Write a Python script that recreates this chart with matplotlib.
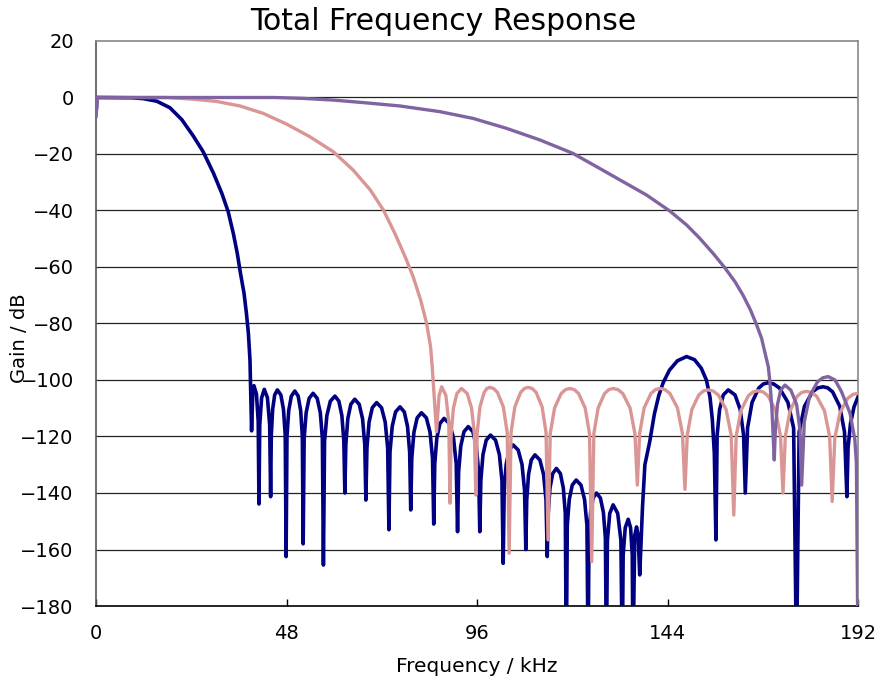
import matplotlib
matplotlib.use('Agg')
import matplotlib.pyplot as plt

# ---------------------------------------------------------------------------
# Data (kHz, dB) -- values below -180 fall off the axis
# ---------------------------------------------------------------------------
# navy: narrowest filter
navy_khz = [0, 0.3, 9, 11.9, 15.3, 18.6, 21.6, 24.5, 27.0, 29.6, 31.7, 33.3, 34.6, 35.6, 36.4,
            37.3, 37.9, 38.4, 38.8, 39.2,
            39.5, 39.8, 40.43, 40.87, 41.06,
            41.26, 41.73, 42.4, 43.2, 43.76, 44.0,
            44.17, 44.51, 45.02, 45.7, 46.58, 47.24, 47.68, 47.9,
            48.12, 48.56, 49.22, 50.1, 50.94, 51.57, 51.99, 52.2,
            52.45, 52.95, 53.7, 54.7, 55.74, 56.52, 57.04, 57.3,
            57.59, 58.17, 59.04, 60.2, 61.2, 61.95, 62.45, 62.7,
            62.95, 63.45, 64.2, 65.2, 66.32, 67.16, 67.72, 68.0,
            68.27, 68.81, 69.62, 70.7, 71.94, 72.87, 73.49, 73.8,
            74.08, 74.64, 75.48, 76.6, 77.68, 78.49, 79.03, 79.3,
            79.57, 80.11, 80.92, 82.0, 83.24, 84.17, 84.79, 85.1,
            85.36, 85.88, 86.66, 87.7, 89.06, 90.08, 90.76, 91.1,
            91.37, 91.91, 92.72, 93.8, 94.96, 95.83, 96.41, 96.7,
            96.97, 97.51, 98.32, 99.4, 100.68, 101.64, 102.28, 102.6,
            102.85, 103.35, 104.1, 105.1, 106.38, 107.34, 107.98, 108.3,
            108.53, 108.99, 109.68, 110.6, 111.84, 112.77, 113.39, 113.7,
            113.93, 114.39, 115.08, 116.0, 117.0, 117.75, 118.25, 118.5,
            118.75, 119.25, 120.0, 121.0, 122.2, 123.1, 123.7, 124.0,
            124.21, 124.63, 125.26, 126.1, 127.1, 127.85, 128.35, 128.6,
            128.86, 129.45, 130.3, 131.45, 132.26, 132.6,
            132.83, 133.35, 134.1, 134.7, 135.12, 135.3,
            135.75, 136.2, 136.6, 137.0,
            137.7, 138.3, 139.5, 140.7, 141.8, 142.9, 144.5, 146.5, 148.8, 150.8, 152.5,
            153.8, 154.7, 155.3, 155.8, 156.2,
            156.51, 157.13, 158.06, 159.3, 161.02, 162.31, 163.17, 163.6,
            164.17, 165.31, 167.02, 168.16, 169.3, 170.74, 172.18, 174.34, 175.78, 176.5,
            177.17, 178.51, 180.52, 181.86, 183.2, 184.4, 185.6, 187.4, 188.6, 189.2,
            189.5, 190.1, 191.0, 192.0]
navy_db = [-6, 0, -0.1, -0.4, -1.3, -3.6, -7.8, -13.6, -19.2, -26.8, -33.9, -40.4, -48.1, -55.2, -62.2,
           -69.3, -76.4, -83.5, -93, -118,
           -105, -102, -105, -114.6, -143.9,
           -115.9, -106.3, -103.3, -106.3, -115.9, -141.3,
           -119.5, -110.4, -105.3, -103.5, -105.3, -110.4, -119.5, -162.5,
           -119.9, -110.8, -105.7, -103.9, -105.7, -110.8, -119.9, -158,
           -120.7, -111.6, -106.5, -104.7, -106.5, -111.6, -120.7, -165.5,
           -121.7, -112.6, -107.5, -105.7, -107.5, -112.6, -121.7, -140,
           -122.8, -113.7, -108.6, -106.8, -108.6, -113.7, -122.8, -142.5,
           -124, -114.9, -109.8, -108, -109.8, -114.9, -124, -153,
           -125.5, -116.4, -111.3, -109.5, -111.3, -116.4, -125.5, -146,
           -127.6, -118.5, -113.4, -111.6, -113.4, -118.5, -127.6, -151,
           -129.6, -120.5, -115.4, -113.6, -115.4, -120.5, -129.6, -153.7,
           -132.5, -123.4, -118.3, -116.5, -118.3, -123.4, -132.5, -153.7,
           -135.5, -126.4, -121.3, -119.5, -121.3, -126.4, -135.5, -164.9,
           -139, -129.9, -124.8, -123, -124.8, -129.9, -139, -160,
           -142.5, -133.4, -128.3, -126.5, -128.3, -133.4, -142.5, -162.5,
           -147.3, -138.2, -133.1, -131.3, -133.1, -138.2, -147.3, -200,
           -151.4, -142.3, -137.2, -135.4, -137.2, -142.3, -151.4, -200,
           -156, -146.9, -141.8, -140, -141.8, -146.9, -156, -200,
           -156.8, -147.2, -144.2, -147.2, -156.8, -200,
           -161.9, -152.3, -149.3, -152.3, -161.9, -200,
           -155, -152, -155, -169,
           -145, -130, -122, -112, -105.5, -101, -96.5, -93.2, -91.7, -92.8, -95.8,
           -100, -106, -114, -126, -156.6,
           -119.5, -110.4, -105.3, -103.5, -105.3, -110.4, -119.5, -140,
           -117, -107.9, -102.8, -101.4, -101, -101.4, -102.8, -107.9, -117, -200,
           -118.4, -109.3, -104.2, -102.8, -102.4, -102.8, -104.2, -109.3, -118.4, -141.3,
           -124, -115.5, -109.5, -106]

# pink: middle filter
pink_khz = [0, 0.3, 18, 24.5, 30.4, 36.3, 42.1, 48.0, 53.9, 59.8, 64.8, 69.1, 72.4, 75.3, 77.9,
            79.9, 81.8, 83.3, 84.3, 84.7, 85.8,
            86.45, 87.1, 88.15, 88.89, 89.2,
            89.49, 90.07, 90.94, 92.1, 93.54, 94.62, 95.34, 95.7,
            96.05, 96.75, 97.8, 98.5, 99.2, 100.18, 101.16, 102.63, 103.61, 104.1,
            104.58, 105.54, 106.98, 107.94, 108.9, 109.9, 110.9, 112.4, 113.4, 113.9,
            114.45, 115.55, 117.2, 118.3, 119.4, 120.5, 121.6, 123.25, 124.35, 124.9,
            125.44, 126.52, 128.14, 129.22, 130.3, 131.52, 132.74, 134.57, 135.79, 136.4,
            136.97, 138.11, 139.82, 140.96, 142.1, 143.36, 144.62, 146.51, 147.77, 148.4,
            148.98, 150.14, 151.88, 153.04, 154.2, 155.5, 156.8, 158.75, 160.05, 160.7,
            161.31, 162.53, 164.36, 165.58, 166.8, 168.06, 169.32, 171.21, 172.47, 173.1,
            173.69, 174.87, 176.64, 177.82, 179.0, 180.3, 181.6, 183.55, 184.85, 185.5,
            186.15, 187.45, 189.4, 190.7, 192.0]
pink_db = [-6, 0, 0, -0.6, -1.4, -3, -5.6, -9.4, -13.9, -19.2, -25.7, -32.7, -39.8, -48.1, -56.4,
           -63.4, -71.7, -79.9, -88.2, -95, -118.3,
           -105.4, -102.4, -105.4, -115, -143.6,
           -119, -109.9, -104.8, -103, -104.8, -109.9, -119, -140.7,
           -118.6, -109.5, -104.4, -103, -102.6, -103, -104.4, -109.5, -118.6, -161.3,
           -118.6, -109.5, -104.4, -103, -102.6, -103, -104.4, -109.5, -118.6, -156.6,
           -119, -109.9, -104.8, -103.4, -103, -103.4, -104.8, -109.9, -119, -164.3,
           -119, -109.9, -104.8, -103.4, -103, -103.4, -104.8, -109.9, -119, -137.2,
           -119, -109.9, -104.8, -103.4, -103, -103.4, -104.8, -109.9, -119, -138.7,
           -119.5, -110.4, -105.3, -103.9, -103.5, -103.9, -105.3, -110.4, -119.5, -147.8,
           -119.8, -110.7, -105.6, -104.2, -103.8, -104.2, -105.6, -110.7, -119.8, -140,
           -120, -110.9, -105.8, -104.4, -104, -104.4, -105.8, -110.9, -120, -143,
           -120.7, -111.6, -106.5, -105.1, -104.7]

# purple: widest filter
purple_khz = [0, 0.3, 45, 52, 59.7, 67.3, 76.6, 86.6, 95.0, 103.4, 111.8, 120.2, 126.9, 132.8,
              138.7, 144.6, 148.8, 152.1, 155.5, 158.4, 161.0, 163.0, 164.9, 166.4, 167.7,
              168.5, 169.4, 169.8, 170.3, 170.9,
              171.17, 171.71, 172.52, 173.6, 175.08, 176.54, 177.38, 177.8,
              178.47, 179.81, 181.82, 183.16, 184.5, 186.2, 187.8, 190.0, 191.2, 191.6, 192.0]
purple_db = [-6.8, 0, 0, -0.3, -0.9, -1.8, -3.0, -5.0, -7.4, -10.9, -15.0, -19.8, -25.1, -29.8,
             -34.5, -40.2, -45.1, -49.8, -55.2, -60.2, -65.2, -69.9, -75.2, -80.3, -85.2,
             -90, -95.3, -100.6, -110, -128.3,
             -117.8, -108.7, -103.6, -101.8, -103.6, -108.7, -117.8, -137.2,
             -114.8, -105.7, -100.6, -99.2, -98.8, -100, -104, -111.8, -121, -129.5, -200]

x_ticks = [0, 48, 96, 144, 192]
y_ticks = [20, 0, -20, -40, -60, -80, -100, -120, -140, -160, -180]

COLOR_NAVY = '#000080'
COLOR_PINK = '#D99694'
COLOR_PURPLE = '#8064A2'

plt.rcParams['font.family'] = ['DejaVu Sans']

fig = plt.figure(figsize=(8.82, 6.86), dpi=100)
ax = fig.add_axes([96 / 882, 1 - 606 / 686, (858 - 96) / 882, (606 - 41) / 686])

for yv in y_ticks[1:-1]:
    ax.axhline(yv, color='#222222', linewidth=0.9, zorder=1)

ax.plot(navy_khz, navy_db, color=COLOR_NAVY, linewidth=2.6, zorder=3)
ax.plot(pink_khz, pink_db, color=COLOR_PINK, linewidth=2.4, zorder=4)
ax.plot(purple_khz, purple_db, color=COLOR_PURPLE, linewidth=2.4, zorder=5)

ax.set_xlim(0, 192)
ax.set_ylim(-180, 20)
ax.set_xticks(x_ticks)
ax.set_yticks(y_ticks)
ax.set_yticklabels([str(v).replace('-', '\u2212') for v in y_ticks])
ax.tick_params(axis='x', direction='in', length=5, width=1, pad=13, labelsize=14)
ax.tick_params(axis='y', length=0, pad=16, labelsize=14)

for side in ['top', 'right']:
    ax.spines[side].set_color('#888888')
ax.spines['left'].set_color('#555555')
ax.spines['bottom'].set_color('#000000')
for sp in ax.spines.values():
    sp.set_linewidth(1.2)

fig.text(443 / 882, 1 - 22 / 686, 'Total Frequency Response', ha='center', va='center',
         fontsize=21.5)
fig.text(477 / 882, 1 - 666 / 686, 'Frequency / kHz', ha='center', va='center',
         fontsize=14.5)
fig.text(20 / 882, 1 - 338 / 686, 'Gain / dB', ha='center', va='center',
         rotation=90, fontsize=14)

fig.savefig('out.png', dpi=100, facecolor='white')
